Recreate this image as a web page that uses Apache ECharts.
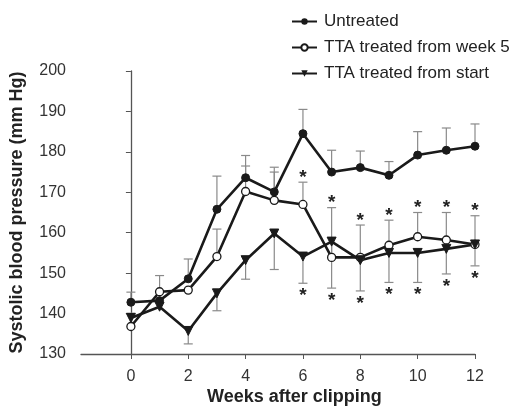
<!DOCTYPE html>
<html><head><meta charset="utf-8">
<script src="https://cdn.jsdelivr.net/npm/echarts@6/dist/echarts.min.js"></script>
<style>html,body{margin:0;padding:0;background:#fff}#c{width:526px;height:407px}</style>
</head><body><div id="c"></div>
<script>
const weeks = [0,1,2,3,4,5,6,7,8,9,10,11,12];
const xTickLabels = [0,2,4,6,8,10,12];
const yTicks = [130,140,150,160,170,180,190,200];
const untreated      = [142.8,143.2,148.6,165.8,173.6,170.1,184.5,175.0,176.1,174.2,179.2,180.4,181.4];
const untreatedUpper = [145.3,null,153.5,174.0,179.1,176.2,190.5,180.4,180.2,177.6,185.0,185.9,186.9];
const tta5           = [136.8,145.4,145.8,154.1,170.2,168.0,167.0,153.9,153.9,156.9,159.0,158.2,157.1];
const tta5Upper      = [140.1,149.4,null,160.9,176.5,175.0,172.5,166.2,161.9,163.1,165.0,165.0,164.2];
const ttaStart       = [138.9,141.7,135.7,145.0,153.2,159.8,154.1,157.8,153.2,155.0,155.0,156.0,157.1];
const ttaStartLower  = [null,null,132.5,140.7,148.5,150.9,147.5,146.3,145.6,147.7,147.7,149.8,151.8];
const starAboveWeeks = [6,7,8,9,10,11,12];
const starBelowWeeks = [6,7,8,9,10,11,12];
const names = ['Untreated','TTA treated from week 5','TTA treated from start'];

const errData = [];
weeks.forEach((w,i)=>{
  if (untreatedUpper[i]!=null) errData.push([w, untreated[i], untreatedUpper[i]]);
  if (tta5Upper[i]!=null) errData.push([w, tta5[i], tta5Upper[i]]);
  if (ttaStartLower[i]!=null) errData.push([w, ttaStart[i], ttaStartLower[i]]);
});
const starData = [];
starAboveWeeks.forEach(w=>{ starData.push([w, tta5Upper[weeks.indexOf(w)], -1]); });
starBelowWeeks.forEach(w=>{ starData.push([w, ttaStartLower[weeks.indexOf(w)], 1]); });

const chart = echarts.init(document.getElementById('c'), null, {renderer:'canvas'});
const FONT = 'Liberation Sans, Arial, sans-serif';
const lineStyle = {color:'#1a1a1a', width:2.6};
chart.setOption({
  animation:false,
  textStyle:{fontFamily:FONT},
  grid:{left:80, right:51, top:71, bottom:53},
  legend:{
    orient:'vertical', left:291, top:13, padding:0, itemGap:9, itemWidth:25, itemHeight:8,
    textStyle:{fontSize:17, color:'#222', fontFamily:FONT, padding:[0,0,0,2]},
    data:names
  },
  xAxis:{
    type:'value', min:-1.74, max:12,
    axisLine:{lineStyle:{color:'#555', width:1.3}},
    axisTick:{show:true, length:5, lineStyle:{color:'#555'}, customValues:xTickLabels},
    axisLabel:{fontSize:16, color:'#333', margin:15, customValues:xTickLabels, fontFamily:FONT},
    splitLine:{show:false}
  },
  yAxis:{
    type:'value', min:130, max:200, interval:10,
    name:'Systolic blood pressure (mm Hg)', nameLocation:'middle', nameGap:55, nameRotate:90,
    nameTextStyle:{fontSize:18, fontWeight:'bold', color:'#222', fontFamily:FONT},
    axisLine:{show:true, lineStyle:{color:'#555', width:1.3}},
    axisTick:{show:true, length:5, lineStyle:{color:'#555'}},
    axisLabel:{fontSize:16, color:'#333', margin:15, fontFamily:FONT},
    splitLine:{show:false}
  },
  graphic:[{type:'text', left:207, top:388, style:{text:'Weeks after clipping', font:'bold 18px '+FONT, fill:'#222'}}],
  series:[
    {type:'custom', z:1, silent:true, data:errData, encode:{x:0,y:[1,2]},
     renderItem:function(params, api){
       const p0 = api.coord([api.value(0), api.value(1)]);
       const p1 = api.coord([api.value(0), api.value(2)]);
       const st = {stroke:'#8a8a8a', lineWidth:1.2};
       return {type:'group', children:[
         {type:'line', shape:{x1:p0[0],y1:p0[1],x2:p1[0],y2:p1[1]}, style:st},
         {type:'line', shape:{x1:p1[0]-4.5,y1:p1[1],x2:p1[0]+4.5,y2:p1[1]}, style:st}
       ]};
     }},
    {type:'custom', z:5, silent:true, data:starData, encode:{x:0,y:1},
     renderItem:function(params, api){
       const p = api.coord([api.value(0), api.value(1)]);
       const dir = api.value(2);
       return {type:'text', x:p[0], y:p[1] + (dir<0 ? -14 : 3),
         style:{text:'*', font:'bold 19px '+FONT, fill:'#222', align:'center', verticalAlign:'top'}};
     }},
    {name:names[0], type:'line', z:3, data:weeks.map((w,i)=>[w,untreated[i]]),
     symbol:'circle', symbolSize:8, lineStyle:lineStyle,
     itemStyle:{color:'#1a1a1a', borderColor:'#1a1a1a'}},
    {name:names[1], type:'line', z:3, data:weeks.map((w,i)=>[w,tta5[i]]),
     symbol:'circle', symbolSize:8, showAllSymbol:true, lineStyle:lineStyle,
     itemStyle:{color:'#ffffff', borderColor:'#1a1a1a', borderWidth:1.3}},
    {name:names[2], type:'line', z:3, data:weeks.map((w,i)=>[w,ttaStart[i]]),
     symbol:'triangle', symbolRotate:180, symbolSize:9, lineStyle:lineStyle,
     itemStyle:{color:'#1a1a1a', borderColor:'#1a1a1a'}}
  ]
});
</script></body></html>
